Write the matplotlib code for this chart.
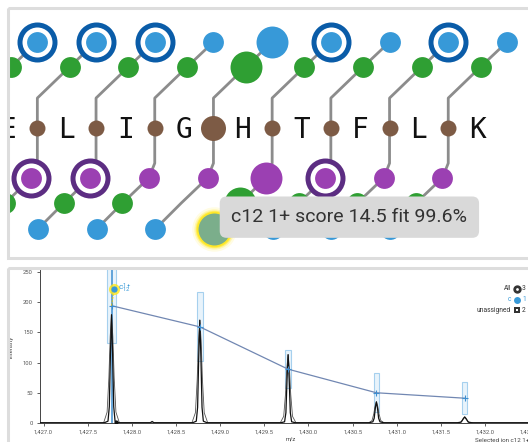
import matplotlib.pyplot as plt
from matplotlib.patches import Rectangle
from matplotlib.ticker import FuncFormatter, MultipleLocator

plt.rcParams['font.family'] = ['Roboto', 'DejaVu Sans']

# ---- fragment map data ----
sequence = list("ELIGHTFLK")
sites = [-0.5, 0.5, 1.5, 2.5, 3.5, 4.5, 5.5, 6.5, 7.5]
site_big = [False, False, False, False, True, False, False, False, False]
top_green = ['dot', 'dot', 'dot', 'dot', 'big', 'dot', 'dot', 'dot', 'dot']
top_blue = ['ring', 'ring', 'ring', 'dot', 'big', 'ring', 'dot', 'ring', 'dot']
bot_purple = [None, 'ring', 'ring', 'dot', 'dot', 'big', 'ring', 'dot', 'dot']
bot_green = [None, 'dot', 'dot', 'dot', None, 'big', 'dot', 'dot', 'dot']
bot_blue = [None, 'dot', 'dot', 'dot', 'dot', 'sel', 'dot', 'dot', 'dot']
tooltip = "c12 1+ score 14.5 fit 99.6%"

# ---- spectrum data ----
spec_mz = [1426.96, 1427.69, 1427.73, 1427.745, 1427.758, 1427.77, 1427.782, 1427.795, 1427.81, 1427.85,
           1428.21, 1428.23, 1428.25,
           1428.69, 1428.73, 1428.745, 1428.758, 1428.77, 1428.782, 1428.795, 1428.81, 1428.85,
           1429.69, 1429.73, 1429.745, 1429.758, 1429.77, 1429.782, 1429.795, 1429.81, 1429.85,
           1430.69, 1430.73, 1430.745, 1430.758, 1430.77, 1430.782, 1430.795, 1430.81, 1430.85,
           1431.69, 1431.73, 1431.75, 1431.77, 1431.79, 1431.81, 1431.85, 1432.65]
spec_int = [0.5, 0.5, 3, 27, 116, 179, 116, 27, 3, 0.5,
            0.5, 2.5, 0.5,
            0.5, 3, 26, 111, 170, 111, 26, 3, 0.5,
            0.5, 2, 17, 73, 113, 73, 17, 2, 0.5,
            0.5, 2, 8, 25, 35, 25, 8, 2, 0.5,
            0.5, 1.5, 6, 10, 6, 1.5, 0.5, 0.5]
env_mz = [1427.68, 1427.72, 1427.74, 1427.755, 1427.77, 1427.785, 1427.80, 1427.82, 1427.86,
          1428.68, 1428.72, 1428.74, 1428.755, 1428.77, 1428.785, 1428.80, 1428.82, 1428.86,
          1429.68, 1429.72, 1429.74, 1429.755, 1429.77, 1429.785, 1429.80, 1429.82, 1429.86,
          1430.68, 1430.72, 1430.74, 1430.755, 1430.77, 1430.785, 1430.80, 1430.82, 1430.86,
          1431.68, 1431.72, 1431.74, 1431.755, 1431.77, 1431.785, 1431.80, 1431.82, 1431.86]
env_int = [0, 18, 75, 143, 179, 143, 75, 18, 0,
           0, 17, 71, 136, 170, 136, 71, 17, 0,
           0, 11, 47, 90, 113, 90, 47, 11, 0,
           0, 4, 15, 28, 35, 28, 15, 4, 0,
           0, 1, 4, 8, 10, 8, 4, 1, 0]
iso_mz = [1427.77, 1428.77, 1429.77, 1430.77, 1431.77]
iso_fit = [194, 159, 89, 50, 41]
iso_err = [62, 57, 31, 32, 26]
sel_mz, sel_int = 1427.80, 222

BROWN = '#7d5b45'
GREEN = '#2f9f33'
BLUE = '#3799d8'
DBLUE = '#0a5ca8'
PURPLE = '#9b40b2'
DPURPLE = '#5c2d82'
LINE = '#8c8c8c'

fig = plt.figure(figsize=(5.28, 4.42), dpi=100)

# fragment map, 58.7 px per residue
u = 58.7
x0, y0 = 8, 128
l, r, t, b = 9.5, 528, 9.5, 256.5
ax = fig.add_axes([l / 528, (442 - b) / 442, (r - l) / 528, (b - t) / 442])
ax.set_xlim((l - x0) / u, (r - x0) / u)
ax.set_ylim((y0 - b) / u, (y0 - t) / u)
ax.axis('off')


def ion(x, y, kind, color, ring):
    if kind is None:
        return
    if kind == 'ring':
        ax.plot(x, y, 'o', ms=25.2, mfc='white', mec=ring, mew=3.6, zorder=3)
        ax.plot(x, y, 'o', ms=15, mfc=color, mew=0, zorder=4)
    elif kind == 'big':
        ax.plot(x, y, 'o', ms=23, mfc=color, mew=0, zorder=3)
    elif kind == 'sel':
        for ms, a in [(32, 0.12), (29, 0.25), (27, 0.5), (25.5, 0.85)]:
            ax.plot(x, y, 'o', ms=ms, mfc='#ffe81a', mew=0, alpha=a, zorder=3)
        ax.plot(x, y, 'o', ms=23, mfc='#7bae8b', mew=0, zorder=4)
    else:
        ax.plot(x, y, 'o', ms=15, mfc=color, mew=0, zorder=3)


for i, s in enumerate(sites):
    # c-side chain going up and right
    ax.plot([s, s, s + 0.55, s + 1.0], [0, 0.51, 1.04, 1.465], color=LINE, lw=2, zorder=1)
    ion(s + 0.55, 1.04, top_green[i], GREEN, None)
    ion(s + 1.0, 1.465, top_blue[i], BLUE, DBLUE)
    # z-side chain going down and left
    if bot_purple[i] is not None:
        ax.plot([s, s, s - 0.1, s - 0.55, s - 0.99], [0, -0.6, -0.85, -1.28, -1.72],
                color=LINE, lw=2, zorder=1)
    ion(s - 0.1, -0.85, bot_purple[i], PURPLE, DPURPLE)
    ion(s - 0.55, -1.28, bot_green[i], GREEN, None)
    ion(s - 0.99, -1.72, bot_blue[i], BLUE, None)
    ax.plot(s, 0, 'o', ms=18 if site_big[i] else 11.5, mfc=BROWN, mew=0, zorder=5)

for i, aa in enumerate(sequence):
    ax.text(i, -0.17, aa, ha='center', va='baseline', fontsize=20, clip_on=True,
            family='DejaVu Sans Mono', color='#111111', zorder=5)

k = bot_blue.index('sel')
ax.annotate(tooltip, xy=(sites[k] - 0.99, -1.72), xytext=(12.5, 8.5), textcoords='offset points',
            fontsize=14, color='#333333', va='center', ha='left', zorder=10,
            bbox=dict(boxstyle='round,pad=0.6,rounding_size=0.35', fc='#d9d9d9', ec='none'))

# isotope spectrum
ax2 = fig.add_axes([40 / 528, 19 / 442, 502.4 / 528, 153 / 442])
ax2.set_xlim(1426.96, 1432.65)
ax2.set_ylim(0, 253)
for s in ['top', 'right']:
    ax2.spines[s].set_visible(False)
for s in ['left', 'bottom']:
    ax2.spines[s].set_color('#444444')
    ax2.spines[s].set_linewidth(0.7)
ax2.xaxis.set_major_locator(MultipleLocator(0.5))
ax2.yaxis.set_major_locator(MultipleLocator(50))
ax2.xaxis.set_major_formatter(FuncFormatter(lambda v, p: f'{v:,.1f}'))
ax2.tick_params(labelsize=4.2, labelcolor='#555555', color='#444444', length=2.5, width=0.6, pad=2.5)
ax2.set_ylabel('Intensity', fontsize=4.2, color='#444444', labelpad=7)
ax2.set_xlabel('m/z', fontsize=4.2, color='#444444', labelpad=1)

ax2.bar(iso_mz, [2 * e for e in iso_err], width=[0.095, 0.07, 0.06, 0.06, 0.06],
        bottom=[f - e for f, e in zip(iso_fit, iso_err)], facecolor='#e8f3fb',
        edgecolor='#a6d0ee', linewidth=0.8, zorder=1)
ax2.axvline(iso_mz[0], color='#3d8ed0', lw=1.1, zorder=2)
ax2.plot(env_mz, env_int, color='#555555', lw=0.6, zorder=3)
ax2.plot(spec_mz, spec_int, color='#111111', lw=0.9, zorder=4)
ax2.plot(iso_mz, iso_fit, color='#7187b2', lw=0.9, zorder=5)
ax2.plot(iso_mz, iso_fit, '+', color='#3d8ed0', ms=4, mew=0.8, zorder=6)
ax2.plot(1427.82, 1.5, 'o', color='#111111', ms=2, zorder=6)

ax2.plot([iso_mz[0], sel_mz], [iso_fit[0], sel_int], color='#d6c020', lw=0.8, ls=(0, (2, 1)), zorder=6)
ax2.plot(sel_mz, sel_int, 'o', ms=8, mfc='#ffe81a', mew=0, alpha=0.8, zorder=7)
ax2.plot(sel_mz, sel_int, 'o', ms=4.5, mfc=BLUE, mew=0, zorder=8)
ax2.text(sel_mz + 0.04, sel_int, r'$\mathregular{c^{1+}_{12}}$', fontsize=6, color=BLUE,
         va='center', zorder=8)

# panel frames, legend and captions in pixel space
ov = fig.add_axes([0, 0, 1, 1])
ov.set_xlim(0, 528)
ov.set_ylim(442, 0)
ov.axis('off')
ov.add_patch(Rectangle((8, 8), 560, 250, fill=False, ec='#dddddd', lw=2.2))
ov.add_patch(Rectangle((8, 268), 560, 200, fill=False, ec='#dddddd', lw=2.2))

legend_rows = [('All', '#333333', 'eye', '3'), ('c', BLUE, 'dot', '1'), ('unassigned', '#333333', 'sq', '2')]
for j, (name, col, icon, n) in enumerate(legend_rows):
    yy = 289 + j * 10.5
    ov.text(511, yy, name, ha='right', va='center', fontsize=4.8, color=col)
    if icon == 'eye':
        ov.plot(517, yy, 'o', ms=5, mfc='#333333', mec='#333333')
        ov.plot(517, yy, 'o', ms=2, mfc='white', mew=0)
    elif icon == 'dot':
        ov.plot(517, yy, 'o', ms=5, mfc=BLUE, mew=0)
    else:
        ov.plot(517, yy, 's', ms=4, mfc='#333333', mew=0)
        ov.plot(517, yy, 's', ms=1.5, mfc='white', mew=0)
    ov.text(522, yy, n, ha='left', va='center', fontsize=4.8, color=col)

ov.text(475, 440, 'Selected ion c12 1+', ha='left', va='center', fontsize=4.5, color='#444444')

plt.savefig('out.png', dpi=100)
